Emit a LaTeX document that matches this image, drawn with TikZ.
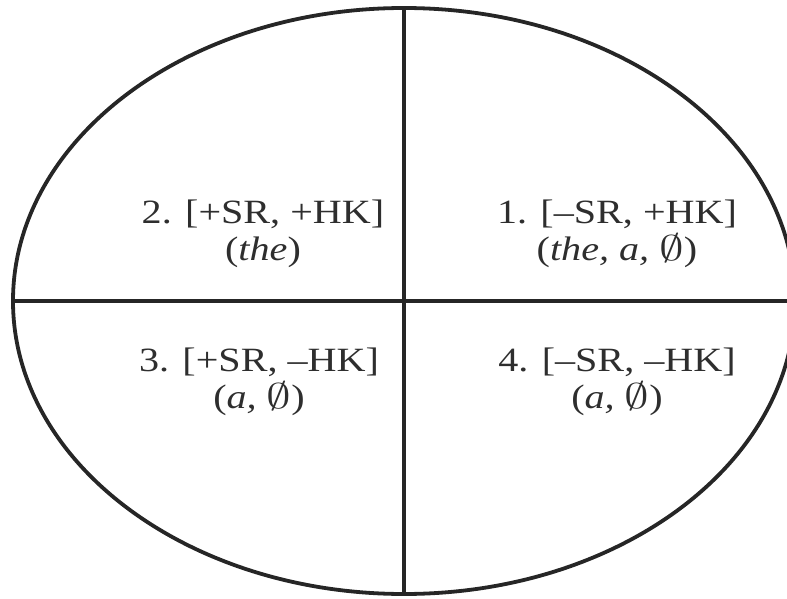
\documentclass[tikz,border=0pt]{standalone}
\usepackage{fix-cm}
\usepackage{fontspec}
\setmainfont{Liberation Serif}[FakeStretch=1.18]
\usetikzlibrary{shapes.geometric}
\newcommand{\nullset}{\scalebox{1.45}[1.05]{$\emptyset$}}
\tikzset{
  oval/.style={ellipse,draw=black!85,line width=3.8pt,inner sep=0pt,
               minimum width=782pt,minimum height=586pt},
  divider/.style={draw=black!85,line width=3.8pt},
  cell/.style={font=\fontsize{34}{37}\selectfont,text=black!82,align=center,
               inner sep=0pt},
}

\begin{document}
\begin{tikzpicture}[x=1pt,y=-1pt]
  \clip (0,0) rectangle (787,599);
  \useasboundingbox (0,0) rectangle (787,599);
  \node[oval] (oval) at (404,301) {};
  \draw[divider] (oval.north) -- (oval.south);
  \draw[divider] (oval.west) -- (oval.east);
  \node[cell] (q1) at (617,234) {1. [--SR, +HK]\\(\textit{the, a,} \nullset)};
  \node[cell] (q2) at (263,234) {2. [+SR, +HK]\\(\textit{the})};
  \node[cell] (q3) at (259,382) {3. [+SR, --HK]\\(\textit{a,} \nullset)};
  \node[cell] (q4) at (617,382) {4. [--SR, --HK]\\(\textit{a,} \nullset)};
\end{tikzpicture}
\end{document}
